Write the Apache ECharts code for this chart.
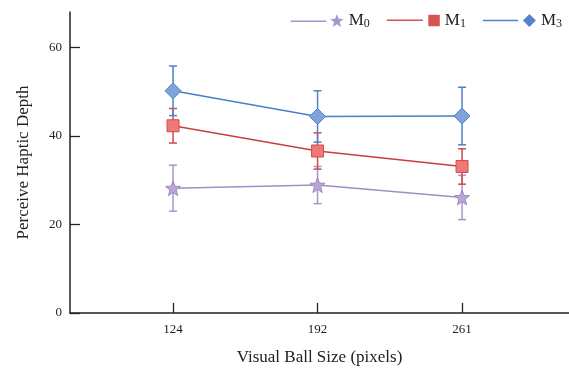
<!DOCTYPE html>
<html>
<head>
<meta charset="utf-8">
<script src="https://cdn.jsdelivr.net/npm/echarts@6/dist/echarts.min.js"></script>
<style>
  html, body { margin: 0; padding: 0; background: #fff; }
  #chart { width: 569px; height: 371px; }
</style>
</head>
<body>
<div id="chart"></div>
<script>
const categories = ['124', '192', '261'];
const m0Values = [28.2, 28.9, 26.1];
const m0Err = [5.2, 4.2, 5.0];
const m1Values = [42.3, 36.6, 33.1];
const m1Err = [3.9, 4.1, 4.0];
const m3Values = [50.2, 44.4, 44.5];
const m3Err = [5.6, 5.8, 6.5];
const yTicks = [0, 20, 40, 60];

const FONT = 'Liberation Serif';

const starShape = 'M39 0L40.47 3.98L44.71 4.15L41.38 6.77L42.53 10.85L39 8.5L35.47 10.85L36.62 6.77L33.29 4.15L37.53 3.98Z';
const legendLine = 'M0 5.35L30 5.35L30 6.65L0 6.65Z ';
const starPath = 'path://' + legendLine + starShape;
const squarePath = 'path://' + legendLine + 'M34.5 1.5L44 1.5L44 11L34.5 11Z';
const diamondPath = 'path://' + legendLine + 'M39.5 0.5L45 6L39.5 11.5L34 6Z';

const toPoints = vals => vals.map((v, i) => [i, v]);
const toErr = (vals, errs) => vals.map((v, i) => [i, v - errs[i], v + errs[i]]);

function errorSeries(name, vals, errs, color) {
  return {
    type: 'custom',
    name: name + '_err',
    z: 1,
    silent: true,
    data: toErr(vals, errs),
    renderItem: (params, api) => {
      const lo = api.coord([api.value(0), api.value(1)]);
      const hi = api.coord([api.value(0), api.value(2)]);
      const w = 4;
      const style = { stroke: color, lineWidth: 1.5 };
      return {
        type: 'group',
        children: [
          { type: 'line', shape: { x1: lo[0], y1: lo[1], x2: hi[0], y2: hi[1] }, style },
          { type: 'line', shape: { x1: lo[0] - w, y1: lo[1], x2: lo[0] + w, y2: lo[1] }, style },
          { type: 'line', shape: { x1: hi[0] - w, y1: hi[1], x2: hi[0] + w, y2: hi[1] }, style }
        ]
      };
    }
  };
}

const chart = echarts.init(document.getElementById('chart'));
chart.setOption({
  animation: false,
  textStyle: { fontFamily: FONT },
  grid: { left: 70, right: 0, top: 12, bottom: 54 },
  legend: {
    top: 7,
    right: 2,
    itemWidth: 53,
    itemHeight: 14,
    itemGap: 17,
    textStyle: {
      fontFamily: FONT,
      fontSize: 17,
      color: '#222',
      rich: {
        sub: { fontFamily: FONT, fontSize: 12, color: '#222', verticalAlign: 'bottom', padding: [7, 0, 0, 0] }
      }
    },
    formatter: name => 'M{sub|' + name.slice(1) + '}',
    data: [
      { name: 'M0', icon: starPath, itemStyle: { color: '#a995cb', borderWidth: 0 } },
      { name: 'M1', icon: squarePath, itemStyle: { color: '#d65352', borderWidth: 0 } },
      { name: 'M3', icon: diamondPath, itemStyle: { color: '#5484c9', borderWidth: 0 } }
    ]
  },
  xAxis: {
    type: 'value',
    min: -0.713,
    max: 2.74,
    name: 'Visual Ball Size (pixels)',
    nameLocation: 'middle',
    nameGap: 36,
    nameTextStyle: { fontFamily: FONT, fontSize: 17, color: '#222' },
    splitLine: { show: false },
    axisLine: { lineStyle: { color: '#222', width: 1.5 } },
    axisTick: { inside: true, length: 10, customValues: [0, 1, 2], lineStyle: { color: '#222', width: 1.3 } },
    axisLabel: {
      customValues: [0, 1, 2],
      margin: 10,
      fontFamily: FONT,
      fontSize: 13,
      color: '#222',
      formatter: v => categories[Math.round(v)]
    }
  },
  yAxis: {
    type: 'value',
    min: 0,
    max: 68,
    name: 'Perceive Haptic Depth',
    nameLocation: 'middle',
    nameGap: 38,
    nameTextStyle: { fontFamily: FONT, fontSize: 17, color: '#222' },
    splitLine: { show: false },
    axisLine: { show: true, onZero: false, lineStyle: { color: '#222', width: 1.5 } },
    axisTick: { show: true, inside: true, length: 10, customValues: yTicks, lineStyle: { color: '#222', width: 1.3 } },
    axisLabel: { customValues: yTicks, margin: 8, fontFamily: FONT, fontSize: 13, color: '#222' }
  },
  series: [
    errorSeries('M0', m0Values, m0Err, '#a995cb'),
    errorSeries('M1', m1Values, m1Err, '#d04a48'),
    errorSeries('M3', m3Values, m3Err, '#4f81c7'),
    {
      name: 'M0', type: 'line', z: 3,
      data: toPoints(m0Values),
      symbol: 'path://' + starShape,
      symbolSize: 15,
      lineStyle: { color: '#a48cc4', width: 1.5 },
      itemStyle: { color: '#b9a6d6', borderColor: '#9f88c2', borderWidth: 1 }
    },
    {
      name: 'M1', type: 'line', z: 3,
      data: toPoints(m1Values),
      symbol: 'rect',
      symbolSize: 12,
      lineStyle: { color: '#c83f3d', width: 1.5 },
      itemStyle: { color: '#ee7a78', borderColor: '#d24c4b', borderWidth: 1 }
    },
    {
      name: 'M3', type: 'line', z: 3,
      data: toPoints(m3Values),
      symbol: 'diamond',
      symbolSize: 16,
      lineStyle: { color: '#4a7fc7', width: 1.5 },
      itemStyle: { color: '#7ea4da', borderColor: '#4f81c7', borderWidth: 1 }
    }
  ]
});
</script>
</body>
</html>
